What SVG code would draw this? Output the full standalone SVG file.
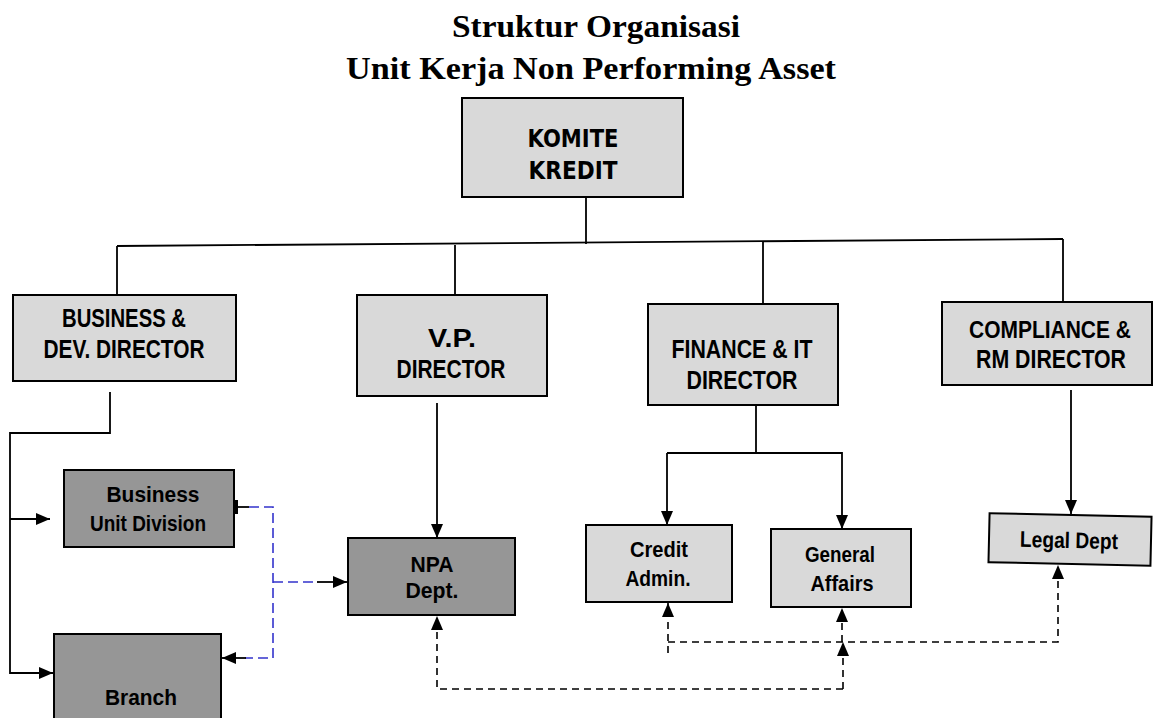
<svg xmlns="http://www.w3.org/2000/svg" width="1157" height="718" viewBox="0 0 1157 718">
<style>
.title{font-family:"Liberation Serif","Times New Roman",serif;font-weight:bold;font-size:31px;fill:#000}
.lbl{font-family:"Liberation Sans",Arial,sans-serif;font-weight:bold;font-size:25px;fill:#000}
.sm{font-family:"Liberation Sans",Arial,sans-serif;font-weight:bold;font-size:22.5px;fill:#000}
.km{font-family:"DejaVu Sans",Verdana,sans-serif;font-weight:bold;font-size:24.5px;fill:#000}
.light{fill:#d9d9d9;stroke:#000;stroke-width:2}
.dark{fill:#969696;stroke:#000;stroke-width:2}
.ln{fill:none;stroke:#000;stroke-width:1.8}
.dash{fill:none;stroke:#000;stroke-width:1.6;stroke-dasharray:7 5}
.blue{fill:none;stroke:#3333cc;stroke-width:1.6;stroke-dasharray:10 5}
</style>
<defs>
<marker id="ah" viewBox="0 0 14 12" refX="14" refY="6" markerWidth="14" markerHeight="12" markerUnits="userSpaceOnUse" orient="auto">
<path d="M0,0 L14,6 L0,12 z" fill="#000"/>
</marker>
</defs>

<g id="title">
<text class="title" x="596" y="37" text-anchor="middle" textLength="288" lengthAdjust="spacingAndGlyphs">Struktur Organisasi</text>
<text class="title" x="591" y="79" text-anchor="middle" textLength="490" lengthAdjust="spacingAndGlyphs">Unit Kerja Non Performing Asset</text>
</g>

<g id="connectors">
<line class="ln" x1="586" y1="197" x2="586" y2="244"/>
<line class="ln" x1="117" y1="246" x2="1063" y2="239"/>
<line class="ln" x1="117" y1="246" x2="117" y2="295"/>
<line class="ln" x1="455" y1="245" x2="455" y2="295"/>
<line class="ln" x1="763" y1="241" x2="763" y2="304"/>
<line class="ln" x1="1063" y1="239" x2="1063" y2="302"/>
<polyline class="ln" points="110,392 110,433 10,433 10,673 53,673" marker-end="url(#ah)"/>
<line class="ln" x1="10" y1="519" x2="50" y2="519" marker-end="url(#ah)"/>
<line class="ln" x1="437" y1="403" x2="437" y2="538" marker-end="url(#ah)"/>
<line class="ln" x1="756" y1="405" x2="756" y2="453"/>
<polyline class="ln" points="667,453 667,525" marker-end="url(#ah)"/>
<polyline class="ln" points="667,453 842,453 842,529" marker-end="url(#ah)"/>
<line class="ln" x1="1071" y1="390" x2="1071" y2="514" marker-end="url(#ah)"/>
<rect x="235" y="500" width="3" height="14" fill="#000"/>
<line class="ln" x1="238" y1="507" x2="249" y2="507"/>
<polyline class="blue" points="249,507 273,507 273,658 245,658"/>
<line class="ln" x1="246" y1="658" x2="222" y2="658" marker-end="url(#ah)"/>
<line class="blue" x1="273" y1="582" x2="318" y2="582"/>
<line class="ln" x1="317" y1="582" x2="347" y2="582" marker-end="url(#ah)"/>
<polyline class="dash" points="843,689 437,689 437,616" marker-end="url(#ah)"/>
<line class="dash" x1="843" y1="689" x2="843" y2="642" marker-end="url(#ah)"/>
<polyline class="dash" points="668,642 1058,642 1058,565" marker-end="url(#ah)"/>
<line class="dash" x1="668" y1="653" x2="668" y2="603" marker-end="url(#ah)"/>
<line class="dash" x1="842" y1="642" x2="842" y2="608" marker-end="url(#ah)"/>
</g>

<g id="komite">
<rect class="light" x="462" y="98" width="221" height="99"/>
<text class="km" x="573" y="147" text-anchor="middle" textLength="91" lengthAdjust="spacingAndGlyphs">KOMITE</text>
<text class="km" x="573" y="179" text-anchor="middle" textLength="89" lengthAdjust="spacingAndGlyphs">KREDIT</text>
</g>

<g id="business-dev">
<rect class="light" x="13" y="295" width="223" height="86"/>
<text class="lbl" x="124" y="327" text-anchor="middle" textLength="124" lengthAdjust="spacingAndGlyphs">BUSINESS &amp;</text>
<text class="lbl" x="124" y="358" text-anchor="middle" textLength="161" lengthAdjust="spacingAndGlyphs">DEV. DIRECTOR</text>
</g>

<g id="vp-director">
<rect class="light" x="357" y="295" width="190" height="101"/>
<text class="lbl" x="452" y="347" text-anchor="middle" textLength="48" lengthAdjust="spacingAndGlyphs">V.P.</text>
<text class="lbl" x="451" y="378" text-anchor="middle" textLength="109" lengthAdjust="spacingAndGlyphs">DIRECTOR</text>
</g>

<g id="finance-director">
<rect class="light" x="648" y="304" width="190" height="101"/>
<text class="lbl" x="742" y="358" text-anchor="middle" textLength="141" lengthAdjust="spacingAndGlyphs">FINANCE &amp; IT</text>
<text class="lbl" x="742" y="389" text-anchor="middle" textLength="111" lengthAdjust="spacingAndGlyphs">DIRECTOR</text>
</g>

<g id="compliance-director">
<rect class="light" x="942" y="302" width="210" height="83"/>
<text class="lbl" x="1050" y="338" text-anchor="middle" textLength="162" lengthAdjust="spacingAndGlyphs" style="font-size:23px">COMPLIANCE &amp;</text>
<text class="lbl" x="1051" y="368" text-anchor="middle" textLength="150" lengthAdjust="spacingAndGlyphs">RM DIRECTOR</text>
</g>

<g id="business-unit">
<rect class="dark" x="64" y="470" width="170" height="77"/>
<text class="sm" x="153" y="502" text-anchor="middle" textLength="93" lengthAdjust="spacingAndGlyphs">Business</text>
<text class="sm" x="148" y="531" text-anchor="middle" textLength="116" lengthAdjust="spacingAndGlyphs">Unit Division</text>
</g>

<g id="branch">
<rect class="dark" x="54" y="634" width="167" height="110"/>
<text class="sm" x="141" y="705" text-anchor="middle" textLength="72" lengthAdjust="spacingAndGlyphs">Branch</text>
</g>

<g id="npa-dept">
<rect class="dark" x="348" y="538" width="167" height="77"/>
<text class="sm" x="432" y="572" text-anchor="middle" textLength="43" lengthAdjust="spacingAndGlyphs">NPA</text>
<text class="sm" x="432" y="598" text-anchor="middle" textLength="53" lengthAdjust="spacingAndGlyphs">Dept.</text>
</g>

<g id="credit-admin">
<rect class="light" x="586" y="525" width="146" height="77"/>
<text class="sm" x="659" y="557" text-anchor="middle" textLength="58" lengthAdjust="spacingAndGlyphs">Credit</text>
<text class="sm" x="658" y="586" text-anchor="middle" textLength="65" lengthAdjust="spacingAndGlyphs">Admin.</text>
</g>

<g id="general-affairs">
<rect class="light" x="771" y="529" width="140" height="78"/>
<text class="sm" x="840" y="562" text-anchor="middle" textLength="70" lengthAdjust="spacingAndGlyphs">General</text>
<text class="sm" x="842" y="591" text-anchor="middle" textLength="63" lengthAdjust="spacingAndGlyphs">Affairs</text>
</g>

<g id="legal-dept" transform="rotate(1.3 1070 540)">
<rect class="light" x="989" y="515" width="162" height="49"/>
<text class="sm" x="1069" y="548" text-anchor="middle" textLength="98" lengthAdjust="spacingAndGlyphs">Legal Dept</text>
</g>
</svg>
